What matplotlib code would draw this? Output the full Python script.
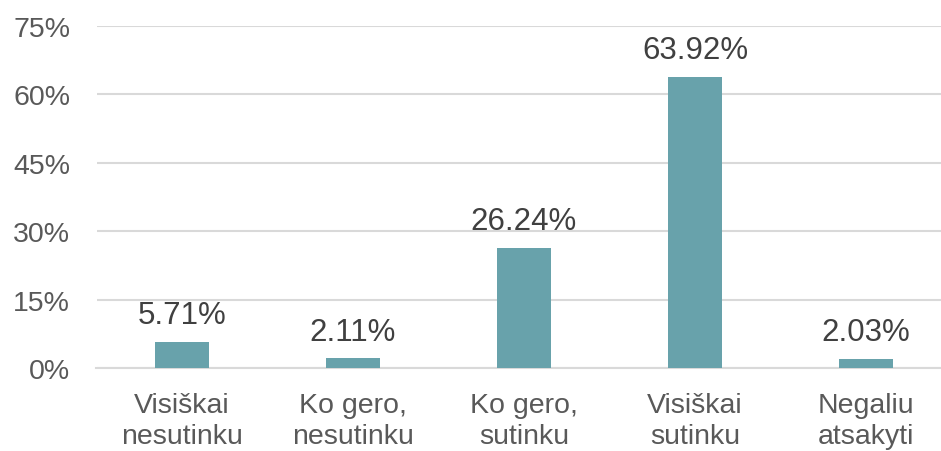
import matplotlib
matplotlib.use("Agg")
import matplotlib.pyplot as plt
import numpy as np

categories = ["Visiškai\nnesutinku", "Ko gero,\nnesutinku", "Ko gero,\nsutinku",
              "Visiškai\nsutinku", "Negaliu\natsakyti"]
values = [5.71, 2.11, 26.24, 63.92, 2.03]
yticks = [0, 15, 30, 45, 60, 75]

plt.rcParams['font.family'] = ['Liberation Sans', 'DejaVu Sans']

fig = plt.figure(figsize=(9.41, 4.52), dpi=100)
# axes spans a bit past the right edge, like the original chart
ax = fig.add_axes([96.5 / 941, 1 - 369 / 452, 855 / 941, 342 / 452])

x = np.arange(len(categories))
bars = ax.bar(x, values, width=0.316, color="#68a2ab", zorder=3)

for xi, v in zip(x, values):
    ax.text(xi, v + 2.6, f"{v:.2f}%", ha="center", va="bottom",
            fontsize=22.5, color="#404040")

ax.set_xlim(-0.5, len(categories) - 0.5)
ax.set_ylim(0, 75)
ax.set_yticks(yticks)
ax.set_yticklabels([f"{t}%" for t in yticks])
ax.yaxis.grid(True, color="#d9d9d9", linewidth=1.5, zorder=0)
ax.set_xticks(x)
ax.set_xticklabels(categories, linespacing=1.25)

ax.tick_params(axis="both", length=0, labelsize=20.5, colors="#595959")
ax.tick_params(axis="y", pad=19)
ax.tick_params(axis="x", pad=17)
for s in ["top", "right", "left"]:
    ax.spines[s].set_visible(False)
ax.spines["bottom"].set_color("#d9d9d9")
ax.spines["bottom"].set_linewidth(1.5)

fig.savefig("out.png", dpi=100)
